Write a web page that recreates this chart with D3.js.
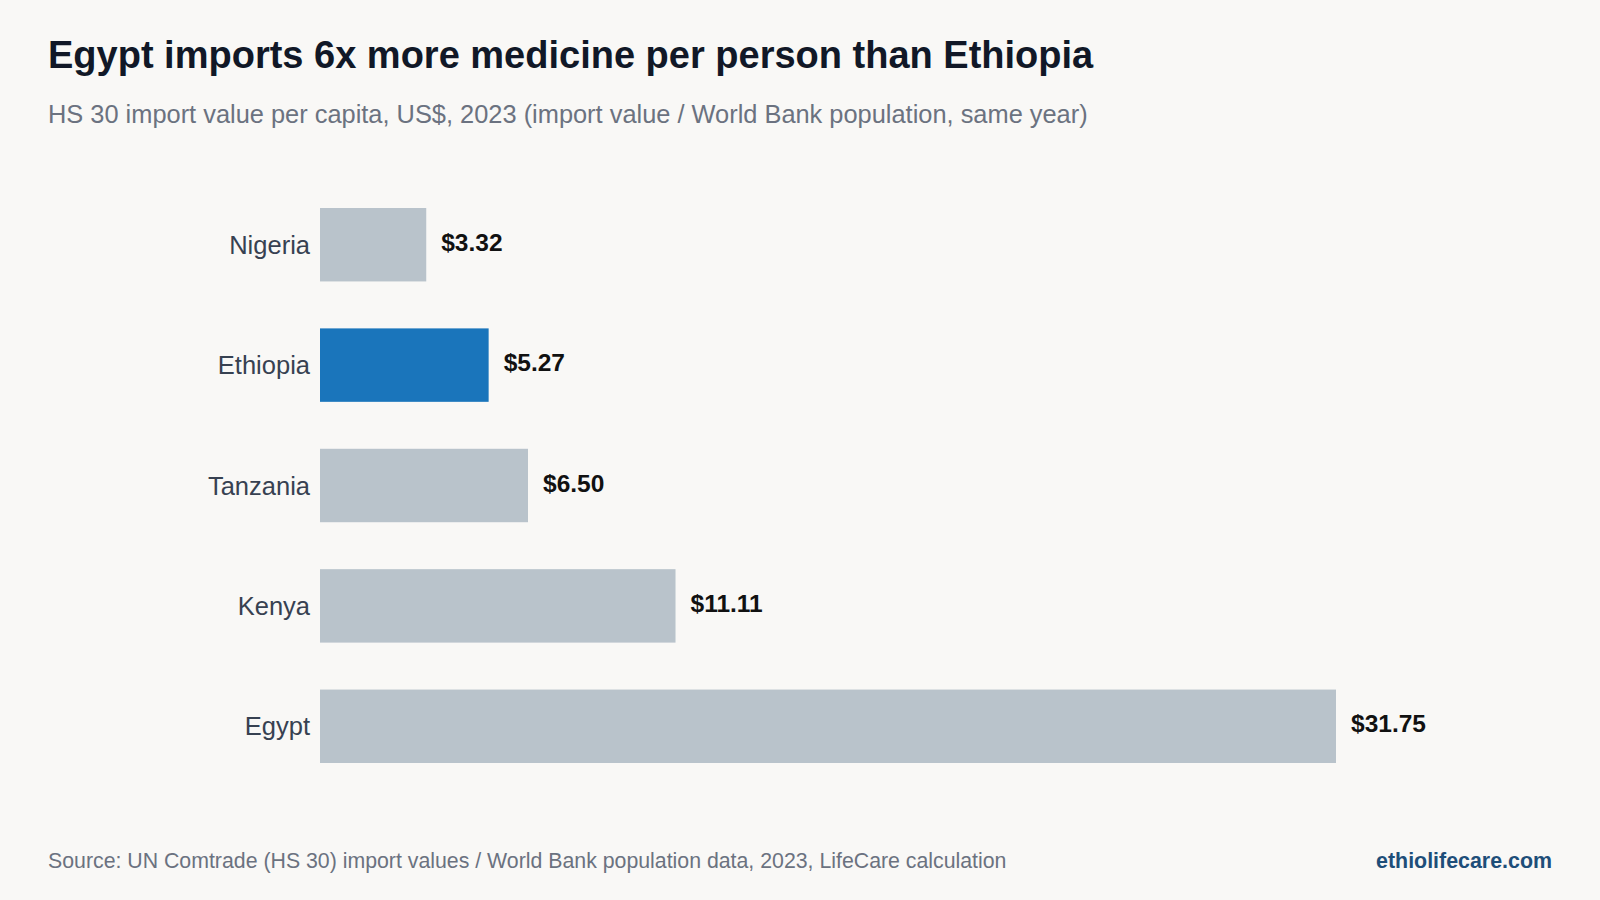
<!DOCTYPE html>
<html><head><meta charset="utf-8">
<script src="https://cdn.jsdelivr.net/npm/d3@7"></script>
<style>body{margin:0;background:#f9f8f6;font-family:"Liberation Sans",Arial,sans-serif}</style>
</head><body><svg id="c" width="1600" height="900"></svg>
<script>
const countries=["Nigeria","Ethiopia","Tanzania","Kenya","Egypt"];
const values=[3.32,5.27,6.50,11.11,31.75];
const highlight="Ethiopia";
const svg=d3.select("#c");
svg.append("rect").attr("width",1600).attr("height",900).attr("fill","#f9f8f6");
svg.append("text").attr("x",48).attr("y",68).attr("font-size",38).attr("font-weight","bold").attr("fill","#111827").text("Egypt imports 6x more medicine per person than Ethiopia");
svg.append("text").attr("x",48).attr("y",123).attr("font-size",25.4).attr("fill","#6b7280").text("HS 30 import value per capita, US$, 2023 (import value / World Bank population, same year)");
const x=d3.scaleLinear().domain([0,31.75]).range([320,1336]);
const y=d3.scaleBand().domain(countries).range([147.8,823.2]).paddingInner(0.39).paddingOuter(0.5);
svg.selectAll(".bar").data(countries).join("rect").attr("x",x(0)).attr("y",d=>y(d)).attr("height",y.bandwidth())
 .attr("width",(d,i)=>x(values[i])-x(0)).attr("fill",d=>d===highlight?"#1a75bb":"#b9c3cb");
svg.selectAll(".lab").data(countries).join("text").attr("x",310).attr("y",d=>y(d)+y.bandwidth()/2+9).attr("text-anchor","end")
 .attr("font-size",25.5).attr("fill","#374151").text(d=>d);
svg.selectAll(".val").data(countries).join("text").attr("x",(d,i)=>x(values[i])+15).attr("y",d=>y(d)+y.bandwidth()/2+6)
 .attr("font-size",24.5).attr("font-weight","bold").attr("fill","#111").text((d,i)=>"$"+values[i].toFixed(2));
svg.append("text").attr("x",48).attr("y",868).attr("font-size",21.3).attr("fill","#6b7280").text("Source: UN Comtrade (HS 30) import values / World Bank population data, 2023, LifeCare calculation");
svg.append("text").attr("x",1552).attr("y",868).attr("text-anchor","end").attr("font-size",21.4).attr("font-weight","bold").attr("fill","#1e4e79").text("ethiolifecare.com");
</script></body></html>
